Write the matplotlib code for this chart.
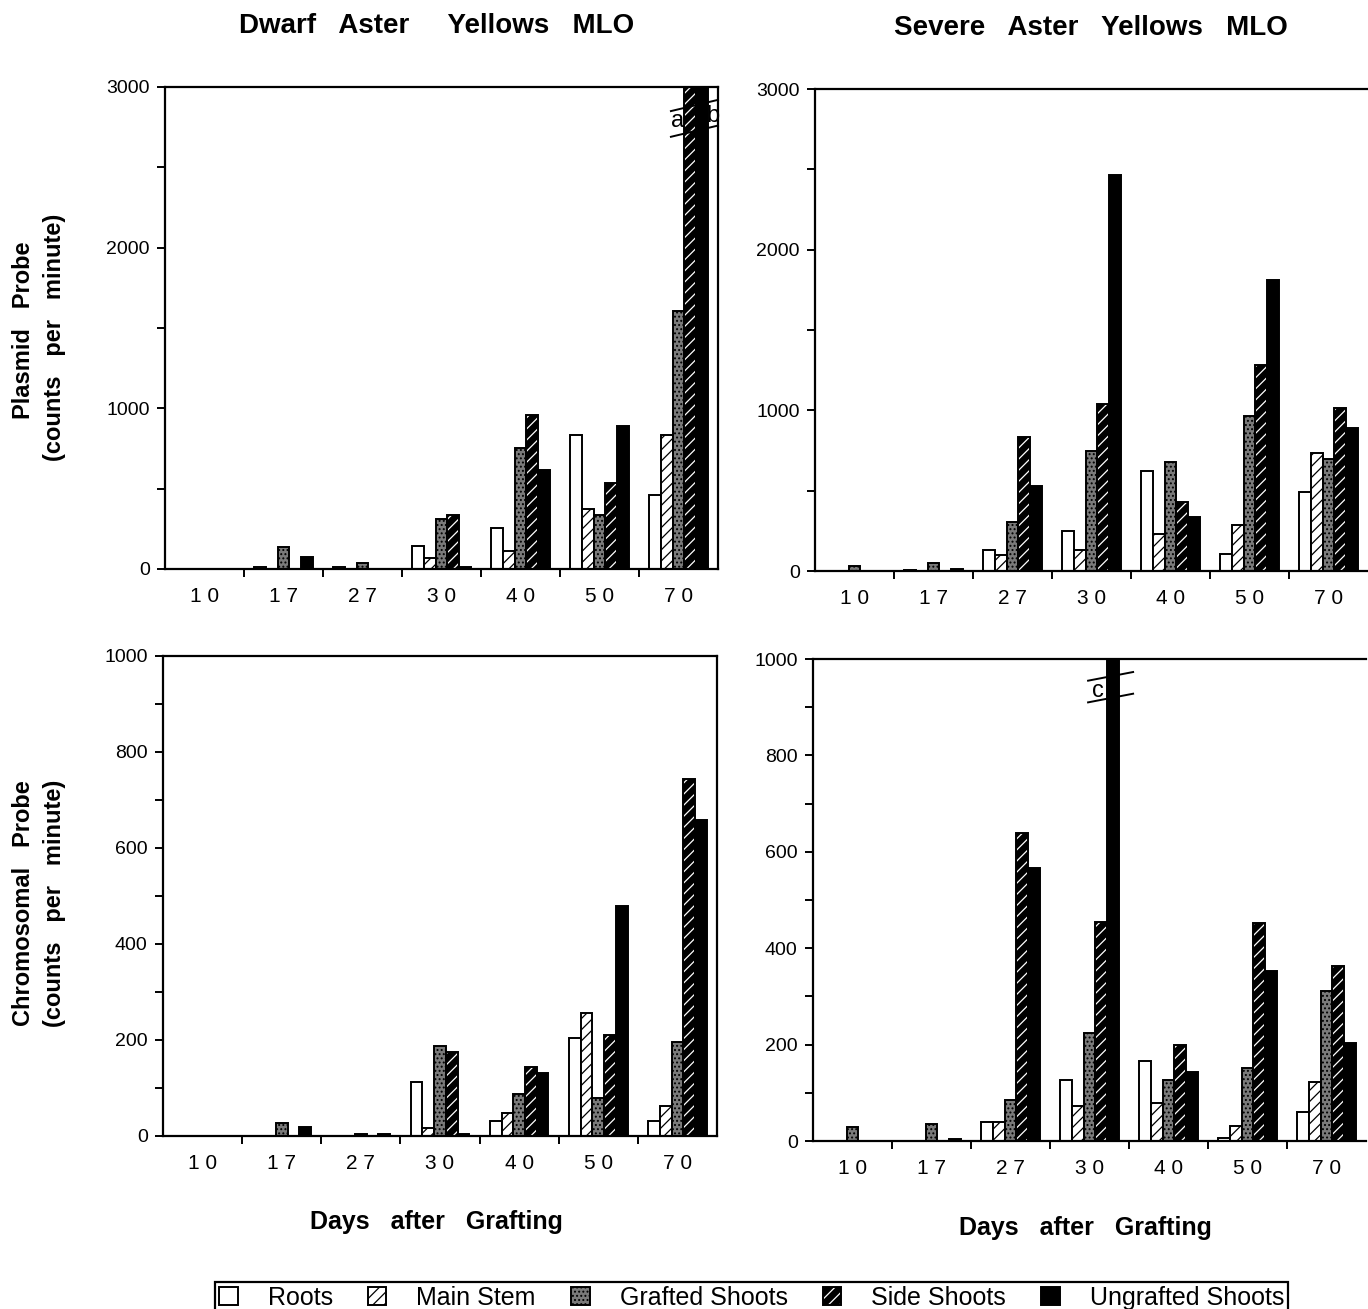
import matplotlib.pyplot as plt
from matplotlib.legend_handler import HandlerTuple

plt.rcParams["font.family"] = ["Liberation Sans", "DejaVu Sans"]
plt.rcParams["hatch.linewidth"] = 0.9

days = ["10", "17", "27", "30", "40", "50", "70"]
tissues = ["Roots", "Main Stem", "Grafted Shoots", "Side Shoots", "Ungrafted Shoots"]

# counts per minute, one row per tissue (same order as `tissues`)
# values above the axis top are off-scale bars drawn with a break (a, b, c)
dwarf_plasmid = [
    [0, 12, 10, 144, 253, 834, 458],
    [0, 0, 0, 70, 112, 376, 834],
    [0, 137, 38, 312, 750, 338, 1604],
    [0, 0, 0, 338, 956, 534, 3400],
    [0, 74, 0, 12, 614, 893, 3400],
]
severe_plasmid = [
    [0, 5, 130, 251, 623, 106, 491],
    [0, 0, 102, 128, 230, 287, 734],
    [34, 49, 304, 747, 677, 964, 698],
    [0, 0, 832, 1038, 432, 1283, 1013],
    [0, 10, 532, 2465, 336, 1810, 889],
]
dwarf_chromo = [
    [0, 0, 0, 112, 32, 205, 31],
    [0, 0, 0, 16, 48, 257, 62],
    [0, 27, 4, 188, 88, 79, 196],
    [0, 0, 0, 176, 143, 211, 743],
    [0, 18, 4, 5, 132, 480, 659],
]
severe_chromo = [
    [0, 0, 40, 127, 167, 7, 61],
    [0, 0, 40, 72, 79, 31, 122],
    [29, 36, 86, 225, 127, 151, 312],
    [0, 0, 638, 454, 199, 453, 364],
    [0, 4, 566, 1100, 144, 352, 203],
]

W, H = 1368, 1309
BAR_W = 0.148
LW = 1.4

# face, hatch colour, hatch pattern for each tissue
styles = [
    ("white", None, ""),
    ("white", "black", "///"),
    ("#7a7a7a", "black", "...."),
    ("black", "white", "///"),
    ("black", None, ""),
]


def add_ax(left, right, top, bottom):
    return fig.add_axes([left / W, 1 - bottom / H, (right - left) / W, (bottom - top) / H])


def draw_panel(ax, data, ymax, ystep, yminor, right_open=False):
    for k, vals in enumerate(data):
        face, hcol, hatch = styles[k]
        x = [i + (k - 2) * BAR_W for i in range(len(days))]
        h = [min(v, ymax * 1.2) for v in vals]
        if hatch:
            ax.bar(x, h, BAR_W, color=face, edgecolor=hcol, hatch=hatch, linewidth=0)
        ax.bar(x, h, BAR_W, fill=(hatch == ""), facecolor=face,
               edgecolor="black", linewidth=LW)
    ax.set_xlim(-0.5, len(days) - 0.5)
    ax.set_ylim(0, ymax)
    ax.set_xticks([i + 0.5 for i in range(len(days) - 1)])
    ax.set_xticklabels([])
    ax.set_xticks(range(len(days)), [" ".join(d) for d in days], minor=True)
    ax.tick_params(axis="x", which="major", direction="out", length=6, width=LW)
    ax.tick_params(axis="x", which="minor", length=0, pad=13, labelsize=15)
    ax.set_yticks(range(0, ymax + 1, ystep))
    ax.set_yticks(range(0, ymax + 1, yminor), minor=True)
    ax.tick_params(axis="y", which="both", direction="out", length=6, width=LW,
                   labelsize=14, pad=5)
    for s in ax.spines.values():
        s.set_linewidth(1.6)
    if right_open:
        ax.spines["right"].set_visible(False)


def break_mark(ax, x0, x1, y0, y1, slope):
    for y in (y0, y1):
        ax.plot([x0, x1], [y, y + slope], color="black", lw=1.4, clip_on=False)


fig = plt.figure(figsize=(W / 100, H / 100), dpi=100)

ax_tl = add_ax(165, 718, 87, 569)
ax_tr = add_ax(815, 1368, 89, 571)
ax_bl = add_ax(163, 717, 656, 1136)
ax_br = add_ax(813, 1366, 659, 1141)

draw_panel(ax_tl, dwarf_plasmid, 3000, 1000, 500)
draw_panel(ax_tr, severe_plasmid, 3000, 1000, 500, right_open=True)
draw_panel(ax_bl, dwarf_chromo, 1000, 200, 100)
draw_panel(ax_br, severe_chromo, 1000, 200, 100, right_open=True)

# breaks on the off-scale bars
i70 = days.index("70")
side_left = i70 + (3 - 2) * BAR_W - BAR_W / 2
break_mark(ax_tl, side_left - 0.17, len(days) - 0.5, 2690, 2850, 70)
ax_tl.text(side_left - 0.085, 2790, "a", ha="center", va="center", fontsize=17)
ax_tl.text(i70 + 2 * BAR_W + BAR_W / 2 + 0.07, 2820, "b", ha="center", va="center",
           fontsize=17)
i30 = days.index("30")
ung_left = i30 + 2 * BAR_W - BAR_W / 2
break_mark(ax_br, ung_left - 0.24, ung_left + 0.33, 910, 955, 18)
ax_br.text(ung_left - 0.12, 934, "c", ha="center", va="center", fontsize=17)

title_kw = dict(ha="center", va="center", fontsize=20, fontweight="bold")
fig.text(437 / W, 1 - 26 / H, "Dwarf   Aster     Yellows   MLO", **title_kw)
fig.text(1091 / W, 1 - 28 / H, "Severe   Aster   Yellows   MLO", **title_kw)

ylab_kw = dict(ha="center", va="center", rotation=90, fontsize=17, fontweight="bold")
fig.text(24 / W, 1 - 330 / H, "Plasmid   Probe", **ylab_kw)
fig.text(55 / W, 1 - 337 / H, "(counts   per   minute)", **ylab_kw)
fig.text(24 / W, 1 - 903 / H, "Chromosomal   Probe", **ylab_kw)
fig.text(55 / W, 1 - 903 / H, "(counts   per   minute)", **ylab_kw)

xlab_kw = dict(ha="center", va="center", fontsize=18, fontweight="bold")
fig.text(436 / W, 1 - 1222 / H, "Days   after   Grafting", **xlab_kw)
fig.text(1085 / W, 1 - 1228 / H, "Days   after   Grafting", **xlab_kw)

# legend handles: hatched fill overlaid with the black outline
leg_handles = []
for face, hcol, hatch in styles:
    if hatch:
        fill = plt.Rectangle((0, 0), 1, 1, facecolor=face, edgecolor=hcol, hatch=hatch, lw=0)
        edge = plt.Rectangle((0, 0), 1, 1, fill=False, edgecolor="black", lw=LW)
        leg_handles.append((fill, edge))
    else:
        leg_handles.append(plt.Rectangle((0, 0), 1, 1, facecolor=face, edgecolor="black", lw=LW))

leg = fig.legend(leg_handles, tissues, ncol=5, loc="upper left",
                 bbox_to_anchor=(215 / W, 1 - 1282 / H), fontsize=18,
                 handler_map={tuple: HandlerTuple(ndivide=1)},
                 handlelength=0.75, handleheight=0.75, handletextpad=1.2,
                 columnspacing=1.4, borderpad=0.15, borderaxespad=0,
                 fancybox=False, edgecolor="black", framealpha=1)
leg.get_frame().set_linewidth(1.6)

fig.savefig("out.png", dpi=100)
